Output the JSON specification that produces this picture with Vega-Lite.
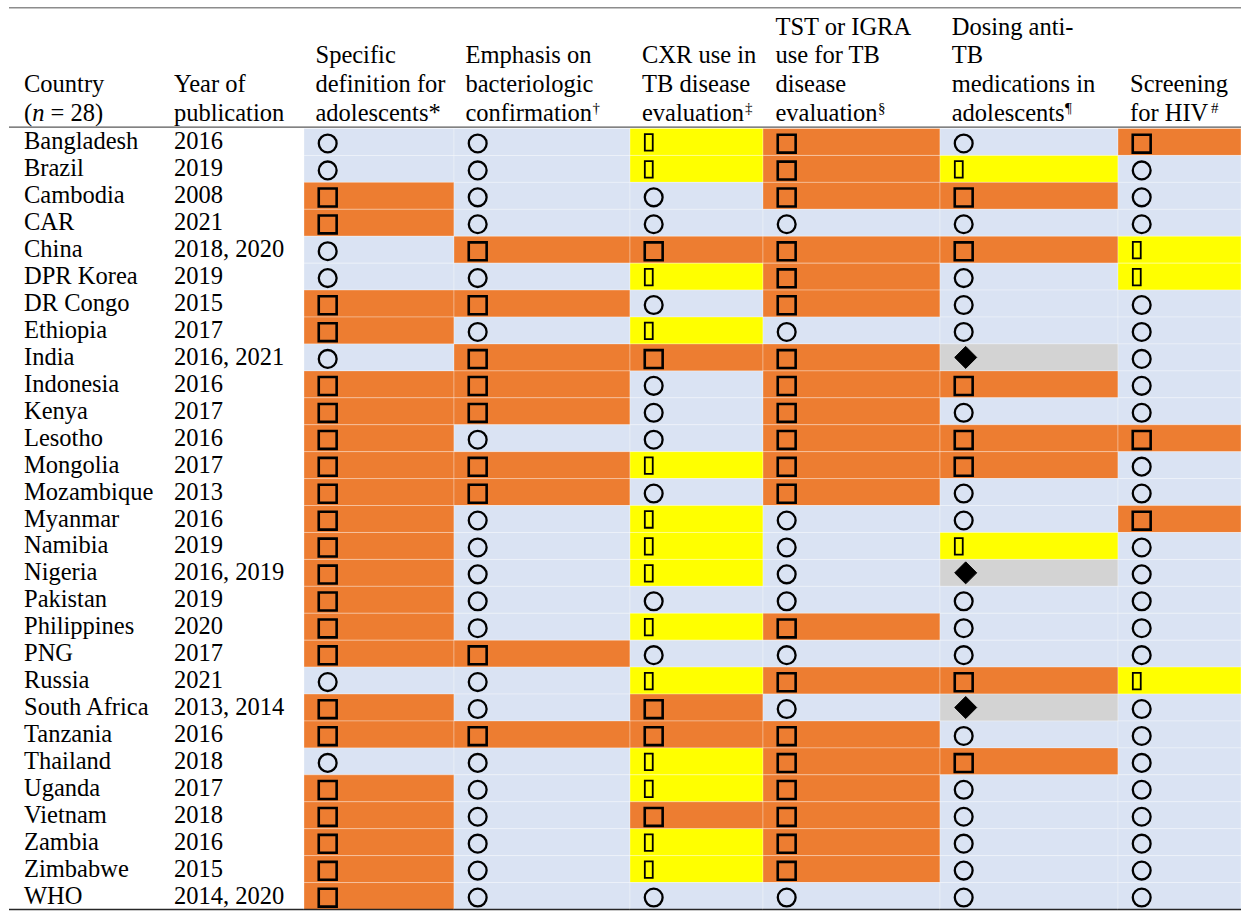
{
"$schema": "https://vega.github.io/schema/vega-lite/v6.json",
"background": "white",
"padding": {"top": 6.5, "left": 8, "right": 4, "bottom": 4},
"autosize": {"type": "pad"},
"config": {"view": {"stroke": null}, "text": {"font": "Liberation Serif", "fontSize": 24.5, "color": "black"}},
"datasets": {
"rows": [
{"country":"Bangladesh","year":"2016","c1":"O","c2":"O","c3":"Y","c4":"S","c5":"O","c6":"S"},
{"country":"Brazil","year":"2019","c1":"O","c2":"O","c3":"Y","c4":"S","c5":"Y","c6":"O"},
{"country":"Cambodia","year":"2008","c1":"S","c2":"O","c3":"O","c4":"S","c5":"S","c6":"O"},
{"country":"CAR","year":"2021","c1":"S","c2":"O","c3":"O","c4":"O","c5":"O","c6":"O"},
{"country":"China","year":"2018, 2020","c1":"O","c2":"S","c3":"S","c4":"S","c5":"S","c6":"Y"},
{"country":"DPR Korea","year":"2019","c1":"O","c2":"O","c3":"Y","c4":"S","c5":"O","c6":"Y"},
{"country":"DR Congo","year":"2015","c1":"S","c2":"S","c3":"O","c4":"S","c5":"O","c6":"O"},
{"country":"Ethiopia","year":"2017","c1":"S","c2":"O","c3":"Y","c4":"O","c5":"O","c6":"O"},
{"country":"India","year":"2016, 2021","c1":"O","c2":"S","c3":"S","c4":"S","c5":"D","c6":"O"},
{"country":"Indonesia","year":"2016","c1":"S","c2":"S","c3":"O","c4":"S","c5":"S","c6":"O"},
{"country":"Kenya","year":"2017","c1":"S","c2":"S","c3":"O","c4":"S","c5":"O","c6":"O"},
{"country":"Lesotho","year":"2016","c1":"S","c2":"O","c3":"O","c4":"S","c5":"S","c6":"S"},
{"country":"Mongolia","year":"2017","c1":"S","c2":"S","c3":"Y","c4":"S","c5":"S","c6":"O"},
{"country":"Mozambique","year":"2013","c1":"S","c2":"S","c3":"O","c4":"S","c5":"O","c6":"O"},
{"country":"Myanmar","year":"2016","c1":"S","c2":"O","c3":"Y","c4":"O","c5":"O","c6":"S"},
{"country":"Namibia","year":"2019","c1":"S","c2":"O","c3":"Y","c4":"O","c5":"Y","c6":"O"},
{"country":"Nigeria","year":"2016, 2019","c1":"S","c2":"O","c3":"Y","c4":"O","c5":"D","c6":"O"},
{"country":"Pakistan","year":"2019","c1":"S","c2":"O","c3":"O","c4":"O","c5":"O","c6":"O"},
{"country":"Philippines","year":"2020","c1":"S","c2":"O","c3":"Y","c4":"S","c5":"O","c6":"O"},
{"country":"PNG","year":"2017","c1":"S","c2":"S","c3":"O","c4":"O","c5":"O","c6":"O"},
{"country":"Russia","year":"2021","c1":"O","c2":"O","c3":"Y","c4":"S","c5":"S","c6":"Y"},
{"country":"South Africa","year":"2013, 2014","c1":"S","c2":"O","c3":"S","c4":"O","c5":"D","c6":"O"},
{"country":"Tanzania","year":"2016","c1":"S","c2":"S","c3":"S","c4":"S","c5":"O","c6":"O"},
{"country":"Thailand","year":"2018","c1":"O","c2":"O","c3":"Y","c4":"S","c5":"S","c6":"O"},
{"country":"Uganda","year":"2017","c1":"S","c2":"O","c3":"Y","c4":"S","c5":"O","c6":"O"},
{"country":"Vietnam","year":"2018","c1":"S","c2":"O","c3":"S","c4":"S","c5":"O","c6":"O"},
{"country":"Zambia","year":"2016","c1":"S","c2":"O","c3":"Y","c4":"S","c5":"O","c6":"O"},
{"country":"Zimbabwe","year":"2015","c1":"S","c2":"O","c3":"Y","c4":"S","c5":"O","c6":"O"},
{"country":"WHO","year":"2014, 2020","c1":"S","c2":"O","c3":"O","c4":"O","c5":"O","c6":"O"}
],
"one": [{"k": 0}]
},
"data": {"name": "rows"},
"bounds": "flush",
"spacing": 0,
"hconcat": [
{
"width": 157, "height": 781,
"encoding": {"y": {"field": "country", "type": "nominal", "axis": null, "scale": {"domain": ["Bangladesh","Brazil","Cambodia","CAR","China","DPR Korea","DR Congo","Ethiopia","India","Indonesia","Kenya","Lesotho","Mongolia","Mozambique","Myanmar","Namibia","Nigeria","Pakistan","Philippines","PNG","Russia","South Africa","Tanzania","Thailand","Uganda","Vietnam","Zambia","Zimbabwe","WHO"], "paddingInner": 0, "paddingOuter": 0}}},
"layer": [
{"mark": {"type": "text", "align": "left", "baseline": "alphabetic", "dx": -63.5, "dy": 7.5}, "encoding": {"text": {"field": "country"}}},
{"data": {"name": "one"}, "layer": [
{"mark": {"type": "rule", "color": "#8c8c8c", "strokeWidth": 1.5}, "encoding": {"y": {"datum": "Bangladesh", "bandPosition": -4.482}}},
{"mark": {"type": "rule", "color": "#595959", "strokeWidth": 1.2}, "encoding": {"y": {"datum": "Bangladesh", "bandPosition": -0.048}}},
{"mark": {"type": "rule", "color": "#262626", "strokeWidth": 1.5}, "encoding": {"y": {"datum": "WHO", "bandPosition": 1}}},
{"mark": {"type": "text", "align": "left", "baseline": "alphabetic", "dx": -63.5}, "encoding": {"y": {"datum": "Bangladesh", "bandPosition": -1.3608}, "text": {"value": "Country"}}},
{"mark": {"type": "text", "align": "left", "baseline": "alphabetic", "dx": -63.5}, "encoding": {"y": {"datum": "Bangladesh", "bandPosition": -0.297}, "text": {"value": "("}}},
{"mark": {"type": "text", "align": "left", "baseline": "alphabetic", "fontStyle": "italic", "dx": -55.34}, "encoding": {"y": {"datum": "Bangladesh", "bandPosition": -0.297}, "text": {"value": "n"}}},
{"mark": {"type": "text", "align": "left", "baseline": "alphabetic", "dx": -36.99}, "encoding": {"y": {"datum": "Bangladesh", "bandPosition": -0.297}, "text": {"value": "= 28)"}}}
]}
]
},
{
"width": 138, "height": 781,
"encoding": {"y": {"field": "country", "type": "nominal", "axis": null, "scale": {"domain": ["Bangladesh","Brazil","Cambodia","CAR","China","DPR Korea","DR Congo","Ethiopia","India","Indonesia","Kenya","Lesotho","Mongolia","Mozambique","Myanmar","Namibia","Nigeria","Pakistan","Philippines","PNG","Russia","South Africa","Tanzania","Thailand","Uganda","Vietnam","Zambia","Zimbabwe","WHO"], "paddingInner": 0, "paddingOuter": 0}}},
"layer": [
{"mark": {"type": "text", "align": "left", "baseline": "alphabetic", "dx": -61, "dy": 7.5}, "encoding": {"text": {"field": "year"}}},
{"data": {"name": "one"}, "layer": [
{"mark": {"type": "rule", "color": "#8c8c8c", "strokeWidth": 1.5}, "encoding": {"y": {"datum": "Bangladesh", "bandPosition": -4.482}}},
{"mark": {"type": "rule", "color": "#595959", "strokeWidth": 1.2}, "encoding": {"y": {"datum": "Bangladesh", "bandPosition": -0.048}}},
{"mark": {"type": "rule", "color": "#262626", "strokeWidth": 1.5}, "encoding": {"y": {"datum": "WHO", "bandPosition": 1}}},
{"mark": {"type": "text", "align": "left", "baseline": "alphabetic", "lineHeight": 28.67, "dx": -61}, "encoding": {"y": {"datum": "Bangladesh", "bandPosition": -1.3608}, "text": {"value": ["Year of", "publication"]}}}
]}
]
},
{
"width": 150, "height": 781,
"encoding": {"y": {"field": "country", "type": "nominal", "axis": null, "scale": {"domain": ["Bangladesh","Brazil","Cambodia","CAR","China","DPR Korea","DR Congo","Ethiopia","India","Indonesia","Kenya","Lesotho","Mongolia","Mozambique","Myanmar","Namibia","Nigeria","Pakistan","Philippines","PNG","Russia","South Africa","Tanzania","Thailand","Uganda","Vietnam","Zambia","Zimbabwe","WHO"], "paddingInner": 0, "paddingOuter": 0}}},
"layer": [
{"mark": {"type": "rect", "stroke": "white", "strokeWidth": 1, "strokeOpacity": 0.3}, "encoding": {"color": {"field": "c1", "type": "nominal", "legend": null, "scale": {"domain": ["O","S","Y","D"], "range": ["#DAE3F3","#ED7D31","#FFFF00","#D3D3D3"]}}}},
{"mark": {"type": "point", "filled": true, "opacity": 1, "size": 576, "stroke": "#000", "xOffset": -51.3}, "encoding": {
"shape": {"field": "c1", "type": "nominal", "legend": null, "scale": {"domain": ["O","S","Y","D"], "range": ["M0.742,0.125C0.742,0.535,0.41,0.867,0,0.867C-0.41,0.867,-0.742,0.535,-0.742,0.125C-0.742,-0.285,-0.41,-0.617,0,-0.617C0.41,-0.617,0.742,-0.285,0.742,0.125Z","M-0.746,-0.606H0.746V0.886H-0.746Z","M-0.74,-0.648H-0.08V0.728H-0.74Z","M0.167,-0.917L1.084,0L0.167,0.917L-0.75,0Z"]}},
"fill": {"condition": {"test": "datum.c1 === 'D'", "value": "#000"}, "value": "transparent"},
"strokeWidth": {"condition": [{"test": "datum.c1 === 'S'", "value": 2.6}, {"test": "datum.c1 === 'Y'", "value": 1.8}, {"test": "datum.c1 === 'D'", "value": 1}], "value": 2.3}}},
{"data": {"name": "one"}, "layer": [
{"mark": {"type": "rule", "color": "#8c8c8c", "strokeWidth": 1.5}, "encoding": {"y": {"datum": "Bangladesh", "bandPosition": -4.482}}},
{"mark": {"type": "rule", "color": "#595959", "strokeWidth": 1.2}, "encoding": {"y": {"datum": "Bangladesh", "bandPosition": -0.048}}},
{"mark": {"type": "rule", "color": "#262626", "strokeWidth": 1.5}, "encoding": {"y": {"datum": "WHO", "bandPosition": 1}}},
{"mark": {"type": "text", "align": "left", "baseline": "alphabetic", "lineHeight": 28.67, "dx": -63.5}, "encoding": {"y": {"datum": "Bangladesh", "bandPosition": -2.4254}, "text": {"value": ["Specific", "definition for", "adolescents*"]}}}
]}
]
},
{
"width": 176, "height": 781,
"encoding": {"y": {"field": "country", "type": "nominal", "axis": null, "scale": {"domain": ["Bangladesh","Brazil","Cambodia","CAR","China","DPR Korea","DR Congo","Ethiopia","India","Indonesia","Kenya","Lesotho","Mongolia","Mozambique","Myanmar","Namibia","Nigeria","Pakistan","Philippines","PNG","Russia","South Africa","Tanzania","Thailand","Uganda","Vietnam","Zambia","Zimbabwe","WHO"], "paddingInner": 0, "paddingOuter": 0}}},
"layer": [
{"mark": {"type": "rect", "stroke": "white", "strokeWidth": 1, "strokeOpacity": 0.3}, "encoding": {"color": {"field": "c2", "type": "nominal", "legend": null, "scale": {"domain": ["O","S","Y","D"], "range": ["#DAE3F3","#ED7D31","#FFFF00","#D3D3D3"]}}}},
{"mark": {"type": "point", "filled": true, "opacity": 1, "size": 576, "stroke": "#000", "xOffset": -64.3}, "encoding": {
"shape": {"field": "c2", "type": "nominal", "legend": null, "scale": {"domain": ["O","S","Y","D"], "range": ["M0.742,0.125C0.742,0.535,0.41,0.867,0,0.867C-0.41,0.867,-0.742,0.535,-0.742,0.125C-0.742,-0.285,-0.41,-0.617,0,-0.617C0.41,-0.617,0.742,-0.285,0.742,0.125Z","M-0.746,-0.606H0.746V0.886H-0.746Z","M-0.74,-0.648H-0.08V0.728H-0.74Z","M0.167,-0.917L1.084,0L0.167,0.917L-0.75,0Z"]}},
"fill": {"condition": {"test": "datum.c2 === 'D'", "value": "#000"}, "value": "transparent"},
"strokeWidth": {"condition": [{"test": "datum.c2 === 'S'", "value": 2.6}, {"test": "datum.c2 === 'Y'", "value": 1.8}, {"test": "datum.c2 === 'D'", "value": 1}], "value": 2.3}}},
{"data": {"name": "one"}, "layer": [
{"mark": {"type": "rule", "color": "#8c8c8c", "strokeWidth": 1.5}, "encoding": {"y": {"datum": "Bangladesh", "bandPosition": -4.482}}},
{"mark": {"type": "rule", "color": "#595959", "strokeWidth": 1.2}, "encoding": {"y": {"datum": "Bangladesh", "bandPosition": -0.048}}},
{"mark": {"type": "rule", "color": "#262626", "strokeWidth": 1.5}, "encoding": {"y": {"datum": "WHO", "bandPosition": 1}}},
{"mark": {"type": "text", "align": "left", "baseline": "alphabetic", "lineHeight": 28.67, "dx": -76.5}, "encoding": {"y": {"datum": "Bangladesh", "bandPosition": -2.4254}, "text": {"value": ["Emphasis on", "bacteriologic", "confirmation"]}}},
{"mark": {"type": "text", "align": "left", "baseline": "alphabetic", "fontSize": 15, "dx": 50.6}, "encoding": {"y": {"datum": "Bangladesh", "bandPosition": -0.594}, "text": {"value": "†"}}}
]}
]
},
{
"width": 133, "height": 781,
"encoding": {"y": {"field": "country", "type": "nominal", "axis": null, "scale": {"domain": ["Bangladesh","Brazil","Cambodia","CAR","China","DPR Korea","DR Congo","Ethiopia","India","Indonesia","Kenya","Lesotho","Mongolia","Mozambique","Myanmar","Namibia","Nigeria","Pakistan","Philippines","PNG","Russia","South Africa","Tanzania","Thailand","Uganda","Vietnam","Zambia","Zimbabwe","WHO"], "paddingInner": 0, "paddingOuter": 0}}},
"layer": [
{"mark": {"type": "rect", "stroke": "white", "strokeWidth": 1, "strokeOpacity": 0.3}, "encoding": {"color": {"field": "c3", "type": "nominal", "legend": null, "scale": {"domain": ["O","S","Y","D"], "range": ["#DAE3F3","#ED7D31","#FFFF00","#D3D3D3"]}}}},
{"mark": {"type": "point", "filled": true, "opacity": 1, "size": 576, "stroke": "#000", "xOffset": -42.8}, "encoding": {
"shape": {"field": "c3", "type": "nominal", "legend": null, "scale": {"domain": ["O","S","Y","D"], "range": ["M0.742,0.125C0.742,0.535,0.41,0.867,0,0.867C-0.41,0.867,-0.742,0.535,-0.742,0.125C-0.742,-0.285,-0.41,-0.617,0,-0.617C0.41,-0.617,0.742,-0.285,0.742,0.125Z","M-0.746,-0.606H0.746V0.886H-0.746Z","M-0.74,-0.648H-0.08V0.728H-0.74Z","M0.167,-0.917L1.084,0L0.167,0.917L-0.75,0Z"]}},
"fill": {"condition": {"test": "datum.c3 === 'D'", "value": "#000"}, "value": "transparent"},
"strokeWidth": {"condition": [{"test": "datum.c3 === 'S'", "value": 2.6}, {"test": "datum.c3 === 'Y'", "value": 1.8}, {"test": "datum.c3 === 'D'", "value": 1}], "value": 2.3}}},
{"data": {"name": "one"}, "layer": [
{"mark": {"type": "rule", "color": "#8c8c8c", "strokeWidth": 1.5}, "encoding": {"y": {"datum": "Bangladesh", "bandPosition": -4.482}}},
{"mark": {"type": "rule", "color": "#595959", "strokeWidth": 1.2}, "encoding": {"y": {"datum": "Bangladesh", "bandPosition": -0.048}}},
{"mark": {"type": "rule", "color": "#262626", "strokeWidth": 1.5}, "encoding": {"y": {"datum": "WHO", "bandPosition": 1}}},
{"mark": {"type": "text", "align": "left", "baseline": "alphabetic", "lineHeight": 28.67, "dx": -54.5}, "encoding": {"y": {"datum": "Bangladesh", "bandPosition": -2.4254}, "text": {"value": ["CXR use in", "TB disease", "evaluation"]}}},
{"mark": {"type": "text", "align": "left", "baseline": "alphabetic", "fontSize": 15, "dx": 48.6}, "encoding": {"y": {"datum": "Bangladesh", "bandPosition": -0.594}, "text": {"value": "‡"}}}
]}
]
},
{
"width": 177, "height": 781,
"encoding": {"y": {"field": "country", "type": "nominal", "axis": null, "scale": {"domain": ["Bangladesh","Brazil","Cambodia","CAR","China","DPR Korea","DR Congo","Ethiopia","India","Indonesia","Kenya","Lesotho","Mongolia","Mozambique","Myanmar","Namibia","Nigeria","Pakistan","Philippines","PNG","Russia","South Africa","Tanzania","Thailand","Uganda","Vietnam","Zambia","Zimbabwe","WHO"], "paddingInner": 0, "paddingOuter": 0}}},
"layer": [
{"mark": {"type": "rect", "stroke": "white", "strokeWidth": 1, "strokeOpacity": 0.3}, "encoding": {"color": {"field": "c4", "type": "nominal", "legend": null, "scale": {"domain": ["O","S","Y","D"], "range": ["#DAE3F3","#ED7D31","#FFFF00","#D3D3D3"]}}}},
{"mark": {"type": "point", "filled": true, "opacity": 1, "size": 576, "stroke": "#000", "xOffset": -64.8}, "encoding": {
"shape": {"field": "c4", "type": "nominal", "legend": null, "scale": {"domain": ["O","S","Y","D"], "range": ["M0.742,0.125C0.742,0.535,0.41,0.867,0,0.867C-0.41,0.867,-0.742,0.535,-0.742,0.125C-0.742,-0.285,-0.41,-0.617,0,-0.617C0.41,-0.617,0.742,-0.285,0.742,0.125Z","M-0.746,-0.606H0.746V0.886H-0.746Z","M-0.74,-0.648H-0.08V0.728H-0.74Z","M0.167,-0.917L1.084,0L0.167,0.917L-0.75,0Z"]}},
"fill": {"condition": {"test": "datum.c4 === 'D'", "value": "#000"}, "value": "transparent"},
"strokeWidth": {"condition": [{"test": "datum.c4 === 'S'", "value": 2.6}, {"test": "datum.c4 === 'Y'", "value": 1.8}, {"test": "datum.c4 === 'D'", "value": 1}], "value": 2.3}}},
{"data": {"name": "one"}, "layer": [
{"mark": {"type": "rule", "color": "#8c8c8c", "strokeWidth": 1.5}, "encoding": {"y": {"datum": "Bangladesh", "bandPosition": -4.482}}},
{"mark": {"type": "rule", "color": "#595959", "strokeWidth": 1.2}, "encoding": {"y": {"datum": "Bangladesh", "bandPosition": -0.048}}},
{"mark": {"type": "rule", "color": "#262626", "strokeWidth": 1.5}, "encoding": {"y": {"datum": "WHO", "bandPosition": 1}}},
{"mark": {"type": "text", "align": "left", "baseline": "alphabetic", "lineHeight": 28.67, "dx": -76}, "encoding": {"y": {"datum": "Bangladesh", "bandPosition": -3.49}, "text": {"value": ["TST or IGRA", "use for TB", "disease", "evaluation"]}}},
{"mark": {"type": "text", "align": "left", "baseline": "alphabetic", "fontSize": 15, "dx": 26.6}, "encoding": {"y": {"datum": "Bangladesh", "bandPosition": -0.594}, "text": {"value": "§"}}}
]}
]
},
{
"width": 178, "height": 781,
"encoding": {"y": {"field": "country", "type": "nominal", "axis": null, "scale": {"domain": ["Bangladesh","Brazil","Cambodia","CAR","China","DPR Korea","DR Congo","Ethiopia","India","Indonesia","Kenya","Lesotho","Mongolia","Mozambique","Myanmar","Namibia","Nigeria","Pakistan","Philippines","PNG","Russia","South Africa","Tanzania","Thailand","Uganda","Vietnam","Zambia","Zimbabwe","WHO"], "paddingInner": 0, "paddingOuter": 0}}},
"layer": [
{"mark": {"type": "rect", "stroke": "white", "strokeWidth": 1, "strokeOpacity": 0.3}, "encoding": {"color": {"field": "c5", "type": "nominal", "legend": null, "scale": {"domain": ["O","S","Y","D"], "range": ["#DAE3F3","#ED7D31","#FFFF00","#D3D3D3"]}}}},
{"mark": {"type": "point", "filled": true, "opacity": 1, "size": 576, "stroke": "#000", "xOffset": -65.3}, "encoding": {
"shape": {"field": "c5", "type": "nominal", "legend": null, "scale": {"domain": ["O","S","Y","D"], "range": ["M0.742,0.125C0.742,0.535,0.41,0.867,0,0.867C-0.41,0.867,-0.742,0.535,-0.742,0.125C-0.742,-0.285,-0.41,-0.617,0,-0.617C0.41,-0.617,0.742,-0.285,0.742,0.125Z","M-0.746,-0.606H0.746V0.886H-0.746Z","M-0.74,-0.648H-0.08V0.728H-0.74Z","M0.167,-0.917L1.084,0L0.167,0.917L-0.75,0Z"]}},
"fill": {"condition": {"test": "datum.c5 === 'D'", "value": "#000"}, "value": "transparent"},
"strokeWidth": {"condition": [{"test": "datum.c5 === 'S'", "value": 2.6}, {"test": "datum.c5 === 'Y'", "value": 1.8}, {"test": "datum.c5 === 'D'", "value": 1}], "value": 2.3}}},
{"data": {"name": "one"}, "layer": [
{"mark": {"type": "rule", "color": "#8c8c8c", "strokeWidth": 1.5}, "encoding": {"y": {"datum": "Bangladesh", "bandPosition": -4.482}}},
{"mark": {"type": "rule", "color": "#595959", "strokeWidth": 1.2}, "encoding": {"y": {"datum": "Bangladesh", "bandPosition": -0.048}}},
{"mark": {"type": "rule", "color": "#262626", "strokeWidth": 1.5}, "encoding": {"y": {"datum": "WHO", "bandPosition": 1}}},
{"mark": {"type": "text", "align": "left", "baseline": "alphabetic", "lineHeight": 28.67, "dx": -77.3}, "encoding": {"y": {"datum": "Bangladesh", "bandPosition": -3.49}, "text": {"value": ["Dosing anti-", "TB", "medications in", "adolescents"]}}},
{"mark": {"type": "text", "align": "left", "baseline": "alphabetic", "fontSize": 15, "dx": 36}, "encoding": {"y": {"datum": "Bangladesh", "bandPosition": -0.594}, "text": {"value": "¶"}}}
]}
]
},
{
"width": 123, "height": 781,
"encoding": {"y": {"field": "country", "type": "nominal", "axis": null, "scale": {"domain": ["Bangladesh","Brazil","Cambodia","CAR","China","DPR Korea","DR Congo","Ethiopia","India","Indonesia","Kenya","Lesotho","Mongolia","Mozambique","Myanmar","Namibia","Nigeria","Pakistan","Philippines","PNG","Russia","South Africa","Tanzania","Thailand","Uganda","Vietnam","Zambia","Zimbabwe","WHO"], "paddingInner": 0, "paddingOuter": 0}}},
"layer": [
{"mark": {"type": "rect", "stroke": "white", "strokeWidth": 1, "strokeOpacity": 0.3}, "encoding": {"color": {"field": "c6", "type": "nominal", "legend": null, "scale": {"domain": ["O","S","Y","D"], "range": ["#DAE3F3","#ED7D31","#FFFF00","#D3D3D3"]}}}},
{"mark": {"type": "point", "filled": true, "opacity": 1, "size": 576, "stroke": "#000", "xOffset": -37.8}, "encoding": {
"shape": {"field": "c6", "type": "nominal", "legend": null, "scale": {"domain": ["O","S","Y","D"], "range": ["M0.742,0.125C0.742,0.535,0.41,0.867,0,0.867C-0.41,0.867,-0.742,0.535,-0.742,0.125C-0.742,-0.285,-0.41,-0.617,0,-0.617C0.41,-0.617,0.742,-0.285,0.742,0.125Z","M-0.746,-0.606H0.746V0.886H-0.746Z","M-0.74,-0.648H-0.08V0.728H-0.74Z","M0.167,-0.917L1.084,0L0.167,0.917L-0.75,0Z"]}},
"fill": {"condition": {"test": "datum.c6 === 'D'", "value": "#000"}, "value": "transparent"},
"strokeWidth": {"condition": [{"test": "datum.c6 === 'S'", "value": 2.6}, {"test": "datum.c6 === 'Y'", "value": 1.8}, {"test": "datum.c6 === 'D'", "value": 1}], "value": 2.3}}},
{"data": {"name": "one"}, "layer": [
{"mark": {"type": "rule", "color": "#8c8c8c", "strokeWidth": 1.5}, "encoding": {"y": {"datum": "Bangladesh", "bandPosition": -4.482}}},
{"mark": {"type": "rule", "color": "#595959", "strokeWidth": 1.2}, "encoding": {"y": {"datum": "Bangladesh", "bandPosition": -0.048}}},
{"mark": {"type": "rule", "color": "#262626", "strokeWidth": 1.5}, "encoding": {"y": {"datum": "WHO", "bandPosition": 1}}},
{"mark": {"type": "text", "align": "left", "baseline": "alphabetic", "lineHeight": 28.67, "dx": -49.5}, "encoding": {"y": {"datum": "Bangladesh", "bandPosition": -1.3608}, "text": {"value": ["Screening", "for HIV"]}}},
{"mark": {"type": "text", "align": "left", "baseline": "alphabetic", "fontSize": 15, "dx": 31.5}, "encoding": {"y": {"datum": "Bangladesh", "bandPosition": -0.594}, "text": {"value": "#"}}}
]}
]
}
]
}
